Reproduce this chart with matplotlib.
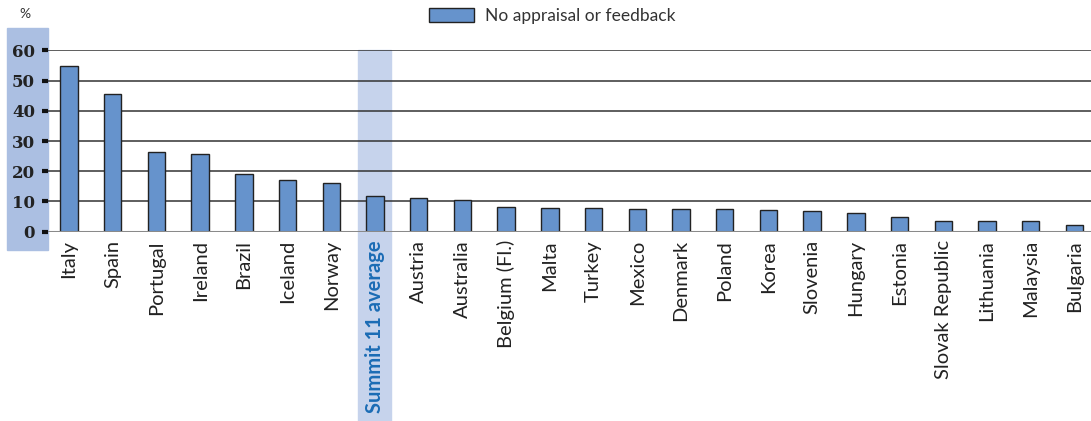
import numpy as np
import matplotlib
matplotlib.use("Agg")
import matplotlib.pyplot as plt
from matplotlib.patches import Rectangle

countries = ["Italy", "Spain", "Portugal", "Ireland", "Brazil", "Iceland", "Norway",
             "Summit 11 average", "Austria", "Australia", "Belgium (Fl.)", "Malta",
             "Turkey", "Mexico", "Denmark", "Poland", "Korea", "Slovenia", "Hungary",
             "Estonia", "Slovak Republic", "Lithuania", "Malaysia", "Bulgaria"]
no_feedback = [54.7, 45.4, 26.3, 25.7, 19.1, 17.1, 16.2,
               11.8, 11.0, 10.4, 8.1, 7.7,
               7.7, 7.5, 7.4, 7.4, 7.1, 6.8, 6.1,
               5.0, 3.7, 3.6, 3.4, 2.2]
yticks = [0, 10, 20, 30, 40, 50, 60]
highlight = "Summit 11 average"

W, H = 1091, 421
fig = plt.figure(figsize=(W / 100, H / 100), dpi=100)

# axes: x from px 47.6 to 1091, y from px 50.3 (60) to 231.7 (0)
ax = fig.add_axes([47.6 / W, 1 - 231.7 / H, (W - 47.6) / W, (231.7 - 50.3) / H])
ax.patch.set_alpha(0)

x = np.arange(len(countries))
hi = countries.index(highlight)

# highlight bands, drawn inside the axes so they sit under labels and bars
ax.add_patch(Rectangle((7 / W, 1 - 250 / H), 41 / W, 222 / H,
                       transform=fig.transFigure, color="#abbfe2",
                       zorder=0.2, clip_on=False))
ax.add_patch(Rectangle((358 / W, 0), 33 / W, 1 - 50 / H,
                       transform=fig.transFigure, color="#c6d3ec",
                       zorder=0.2, clip_on=False))

for v in yticks[1:]:
    ax.axhline(v, color="#333333", lw=1.1, zorder=1)
ax.axhline(0, color="#8a8a8a", lw=2.2, zorder=3)

ax.bar(x, no_feedback, width=0.4, color="#6693cc", edgecolor="#222222",
       linewidth=1.0, zorder=2, label="No appraisal or feedback")

ax.set_xlim(-0.49, 23.38)
ax.set_ylim(0, 60)
for s in ax.spines.values():
    s.set_visible(False)

ax.set_yticks(yticks)
ax.set_yticklabels([str(t) for t in yticks], fontfamily="DejaVu Serif",
                   fontweight="bold", fontsize=12, color="#222222")
ax.tick_params(axis="y", length=4, width=3, color="#111111", pad=5)

ax.set_xticks(x)
ax.set_xticklabels(countries, rotation=90, fontfamily="Lato", fontsize=14.5,
                   color="#222222")
ax.tick_params(axis="x", length=0, pad=6)
lab = ax.get_xticklabels()[hi]
lab.set_color("#1b6cb5")
lab.set_fontweight("bold")

fig.text(25 / W, 1 - 14 / H, "%", fontsize=10, color="#333333",
         ha="center", va="center", fontfamily="Lato")

ax.legend(loc="center", bbox_to_anchor=(552 / W, 1 - 16 / H),
          bbox_transform=fig.transFigure, frameon=False,
          handlelength=2.6, handleheight=0.8, handletextpad=0.6,
          prop={"family": "Lato", "size": 12.5})
leg = ax.get_legend()
for t in leg.get_texts():
    t.set_color("#333333")

fig.savefig("out.png", dpi=100)
